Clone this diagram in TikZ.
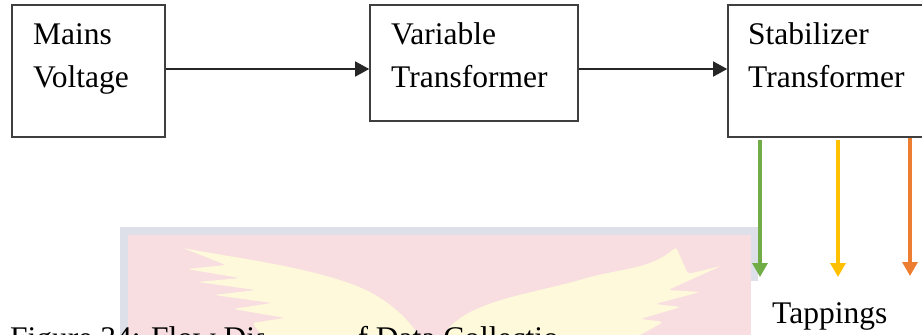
\documentclass[tikz,border=0pt]{standalone}
\usepackage{fontspec}
\setmainfont{Liberation Serif}
\usetikzlibrary{arrows.meta}
\definecolor{boxline}{HTML}{3F3F3F}
\definecolor{tapgreen}{HTML}{70AD47}
\definecolor{tapyellow}{HTML}{FFC000}
\definecolor{taporange}{HTML}{ED7D31}
\definecolor{wmframe}{HTML}{DEE0E9}
\definecolor{wmpink}{HTML}{F8DEE1}
\definecolor{wmwing}{HTML}{FEF9DA}
\tikzset{
  blk/.style={draw=boxline, line width=1.6pt, rectangle, inner sep=0pt},
  lbl/.style={inner sep=0pt, anchor=base west, font=\fontsize{31.5}{43}\selectfont},
  flow/.style={draw=black!85, line width=1.5pt, -{Triangle[length=14pt,width=15pt]}},
  tap/.style={line width=3.2pt, shorten <=2pt, -{Triangle[length=14pt,width=15pt]}},
  leftwing/.pic={
    \fill[wmwing, rounded corners=3pt]
      (183,248) .. controls (235,258) and (320,268) .. (370,292)
      .. controls (395,306) and (410,322) .. (418,335)
      -- (262,335) -- (252,323) -- (286,318) -- (233,309) -- (272,303)
      -- (214,295) -- (256,290) -- (198,282) -- (240,278) -- (187,269)
      -- (226,265) -- cycle;
  },
  rightwing/.pic={
    \fill[wmwing, rounded corners=3pt]
      (676,247) .. controls (650,270) and (620,268) .. (580,280)
      .. controls (520,296) and (468,302) .. (443,335)
      -- (640,335) -- (663,322) -- (640,319) -- (681,307) -- (655,304)
      -- (700,292) -- (668,290) -- (721,266) -- (688,274) -- cycle;
  }
}
\begin{document}
\begin{tikzpicture}[x=1pt,y=-1pt]
\useasboundingbox (0,0) rectangle (922,335);

% faint background emblem
\fill[wmframe] (120,227) rectangle (758,281);
\fill[wmframe] (120,227) rectangle (128,335);
\fill[wmpink] (128,235) rectangle (751,335);
\pic {leftwing};
\pic {rightwing};

% caption line
\node[lbl] (caption) at (10,348) {Figure 34: Flow Diagram of Data Collection};

% parts of the emblem lying over the caption
\begin{scope}
  \clip (264,318) rectangle (359,335);
  \pic {leftwing};
\end{scope}
\begin{scope}
  \clip (557,318) rectangle (760,335);
  \pic {rightwing};
\end{scope}

% blocks
\node[blk, minimum width=153pt, minimum height=132pt] (mains) at (88.5,71) {};
\node[blk, minimum width=208pt, minimum height=116pt] (var) at (474,63) {};
\node[blk, minimum width=232pt, minimum height=132pt] (stab) at (844,71) {};

\node[lbl] (mainsA) at (33,44) {Mains};
\node[lbl] (mainsB) at (33,87) {Voltage};
\node[lbl] (varA) at (391,44) {Variable};
\node[lbl] (varB) at (391,87) {Transformer};
\node[lbl] (stabA) at (748,44) {Stabilizer};
\node[lbl] (stabB) at (748,87) {Transformer};

% main flow
\draw[flow] (mains.east |- 0,69) -- (var.west |- 0,69);
\draw[flow] (var.east |- 0,69) -- (stab.west |- 0,69);

% tappings
\coordinate (tg) at (760,277);
\coordinate (ty) at (838,277);
\coordinate (to) at (910,276);
\draw[tap, tapgreen] (stab.south -| tg) -- (tg);
\draw[tap, tapyellow] (stab.south -| ty) -- (ty);
\draw[tap, taporange, shorten <=0pt] (stab.south -| to) -- (to);

\node[lbl] (tappings) at (772,323) {Tappings};
\end{tikzpicture}
\end{document}
